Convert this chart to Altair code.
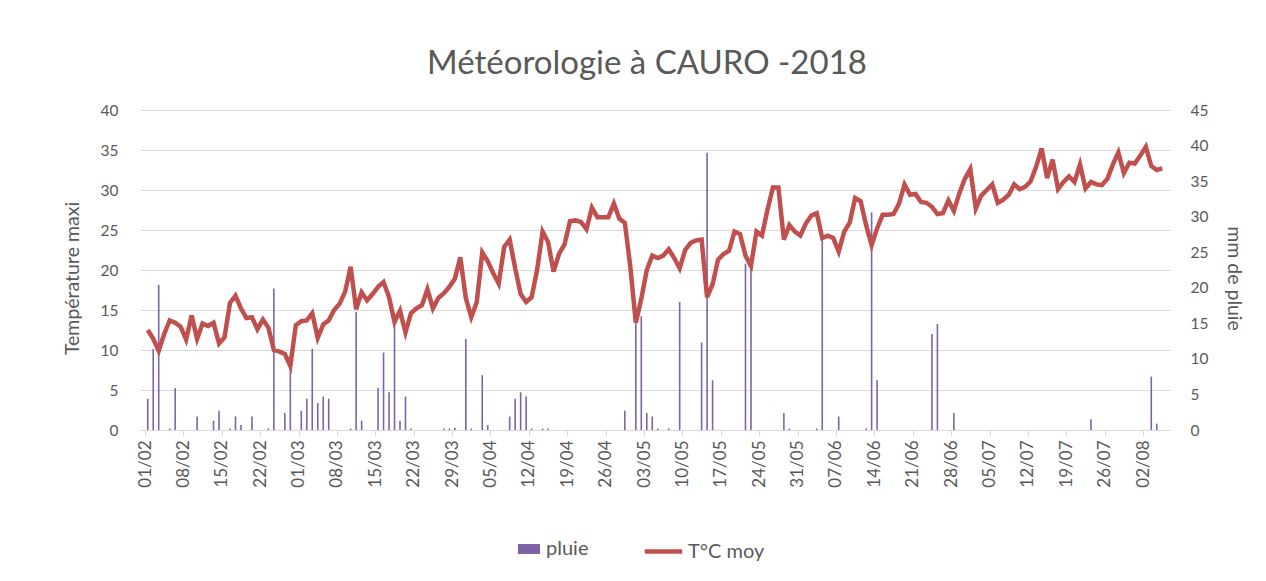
import altair as alt
import pandas as pd

# ---------------- data ----------------
chart_title = "Météorologie à CAURO -2018"
start_date = "2018-02-01"
end_date = "2018-08-06"
serie_rain = "pluie"
serie_temp = "T°C moy"

# daily mean temperature, one value per day from 01/02
temp_moy = [
    12.5, 11.4, 9.9, 12.0, 13.7, 13.4, 12.9, 11.3, 14.3, 11.4,
    13.3, 13.0, 13.4, 10.8, 11.6, 15.9, 16.8, 15.2, 14.0, 14.1,
    12.6, 13.8, 12.8, 10.0, 9.8, 9.5, 8.0, 13.1, 13.6, 13.7,
    14.6, 11.5, 13.2, 13.7, 15.0, 15.8, 17.3, 20.4, 15.1, 17.2,
    16.2, 17.0, 17.9, 18.5, 16.6, 13.5, 14.9, 12.2, 14.6, 15.2,
    15.6, 17.6, 15.2, 16.5, 17.1, 17.9, 18.9, 21.6, 16.5, 14.1,
    16.0, 22.2, 21.1, 19.6, 18.3, 22.9, 23.8, 20.2, 17.0, 16.0,
    16.6, 20.0, 24.8, 23.5, 19.8, 22.0, 23.2, 26.1, 26.2, 26.0,
    25.1, 27.8, 26.6, 26.6, 26.6, 28.3, 26.4, 25.9, 20.4, 13.4,
    16.4, 20.0, 21.8, 21.5, 21.8, 22.6, 21.5, 20.2, 22.5, 23.4,
    23.7, 23.8, 16.6, 18.2, 21.3, 22.0, 22.4, 24.8, 24.5, 21.8,
    20.5, 24.8, 24.3, 27.5, 30.3, 30.3, 23.8, 25.6, 24.8, 24.3,
    25.8, 26.8, 27.1, 24.0, 24.3, 24.0, 22.3, 24.8, 25.9, 29.0,
    28.6, 25.6, 23.1, 25.2, 26.9, 26.9, 27.0, 28.3, 30.7, 29.4,
    29.5, 28.5, 28.4, 27.9, 27.0, 27.1, 28.7, 27.4, 29.6, 31.4,
    32.6, 27.7, 29.3, 30.0, 30.7, 28.4, 28.8, 29.4, 30.7, 30.1,
    30.4, 31.1, 32.9, 35.2, 31.5, 33.8, 30.1, 31.0, 31.7, 31.0,
    33.2, 30.2, 31.0, 30.7, 30.6, 31.4, 33.2, 34.7, 32.1, 33.4,
    33.3, 34.3, 35.4, 33.0, 32.5, 32.7,
]

# rainy days (day number counted from 01/02) and rainfall in mm
rain_day = [
    0, 1, 2, 4, 5, 9, 12, 13, 15, 16, 17, 19, 22, 23, 25, 26, 28, 29,
    30, 31, 32, 33, 37, 38, 39, 42, 43, 44, 45, 46, 47, 48, 54, 55, 56,
    58, 59, 61, 62, 66, 67, 68, 69, 70, 72, 73, 87, 89, 90, 91, 92, 93,
    95, 97, 101, 102, 103, 109, 110, 116, 117, 122, 123, 126, 131, 132,
    133, 143, 144, 147, 172, 183, 184,
]
rain_mm = [
    4.4, 11.4, 20.4, 0.2, 5.9, 1.9, 1.3, 2.7, 0.2, 1.9, 0.7, 1.9, 0.2, 19.9, 2.4, 10.5, 2.7, 4.4,
    11.4, 3.8, 4.7, 4.4, 0.2, 16.6, 1.3, 5.9, 10.9, 5.3, 14.8, 1.3, 4.7, 0.2, 0.2, 0.2, 0.3,
    12.8, 0.2, 7.7, 0.7, 1.9, 4.4, 5.3, 4.7, 0.2, 0.2, 0.2, 2.7, 15.0, 16.0, 2.4, 1.9, 0.2,
    0.2, 18.0, 12.3, 39.0, 7.0, 23.4, 23.0, 2.4, 0.2, 0.2, 26.7, 1.9, 0.2, 30.6,
    7.0, 13.5, 14.9, 2.4, 1.5, 7.5, 0.9,
]

temp_ticks = list(range(0, 45, 5))
rain_ticks = list(range(0, 50, 5))

# ---------------- tables ----------------
days = pd.date_range(start_date, periods=len(temp_moy), freq="D") + pd.Timedelta(hours=12)
df_temp = pd.DataFrame({
    "date": days.strftime("%Y-%m-%dT%H:%M:%S"),
    "val": temp_moy,
    "serie": serie_temp,
})
rain_dates = pd.Timestamp(start_date) + pd.to_timedelta(rain_day, unit="D") + pd.Timedelta(hours=12)
df_rain = pd.DataFrame({
    "date": rain_dates.strftime("%Y-%m-%dT%H:%M:%S"),
    "val": rain_mm,
    "serie": serie_rain,
})

def dt(ts):
    return alt.DateTime(year=ts.year, month=ts.month, date=ts.day)

tick_dates = [dt(t) for t in pd.date_range(start_date, end_date, freq="7D")]
x_domain = [dt(pd.Timestamp(start_date)), dt(pd.Timestamp(end_date))]

FONT = "Lato"
GREY = "#595959"
PURPLE = "#7E63A8"
RED = "#C0504D"

x_enc = alt.X(
    "date:T",
    scale=alt.Scale(domain=x_domain),
    axis=alt.Axis(
        values=tick_dates, format="%d/%m", labelAngle=270, title=None,
        grid=False, domainColor="#d9d9d9", tickColor="#d9d9d9", tickSize=6,
        labelColor=GREY, labelFont=FONT, labelFontSize=17, labelPadding=4,
    ),
)

bars = alt.Chart(df_rain).mark_bar(size=1.6).encode(
    x=x_enc,
    y=alt.Y(
        "val:Q",
        scale=alt.Scale(domain=[0, 45], nice=False),
        axis=alt.Axis(
            orient="right", title="mm de pluie", values=rain_ticks, grid=False,
            ticks=False, tickSize=0, domain=False, labelPadding=20,
            labelColor=GREY, labelFont=FONT, labelFontSize=15.5,
            titleColor=GREY, titleFont=FONT, titleFontSize=19.5,
            titleFontWeight="normal", titlePadding=16, titleY=168,
        ),
    ),
    color=alt.Color(
        "serie:N",
        scale=alt.Scale(domain=[serie_rain], range=[PURPLE]),
        legend=alt.Legend(
            title=None, orient="none", legendX=378, legendY=428,
            symbolType="M-1,-0.45H1V0.45H-1Z", symbolSize=484,
            symbolStrokeWidth=0, labelOffset=6,
            labelColor=GREY, labelFont=FONT, labelFontSize=20,
        ),
    ),
)

line = alt.Chart(df_temp).mark_line(strokeWidth=4.5).encode(
    x=x_enc,
    y=alt.Y(
        "val:Q",
        scale=alt.Scale(domain=[0, 40], nice=False),
        axis=alt.Axis(
            orient="left", title="Température maxi", values=temp_ticks, grid=True,
            gridColor="#d9d9d9", gridWidth=1, ticks=False, tickSize=0, domain=False,
            labelPadding=22, labelColor=GREY, labelFont=FONT, labelFontSize=15.5,
            titleColor=GREY, titleFont=FONT, titleFontSize=19.5,
            titleFontWeight="normal", titlePadding=18, titleY=168,
        ),
    ),
    stroke=alt.Stroke(
        "serie:N",
        scale=alt.Scale(domain=[serie_temp], range=[RED]),
        legend=alt.Legend(
            title=None, orient="none", legendX=510, legendY=428,
            symbolType="M-1.7,0H1.7", symbolSize=484, symbolStrokeWidth=4.5,
            symbolFillColor="transparent", labelOffset=11,
            labelColor=GREY, labelFont=FONT, labelFontSize=20,
        ),
    ),
)

chart = (
    alt.layer(bars, line)
    .resolve_scale(y="independent", color="independent", stroke="independent")
    .properties(
        width=1030,
        height=320,
        autosize=alt.AutoSizeParams(type="none"),
        padding={"left": 132, "top": 102, "right": 88, "bottom": 140},
        title=alt.TitleParams(
            chart_title, font=FONT, fontSize=33, fontWeight="normal",
            color=GREY, anchor="middle", offset=22, dx=-8,
        ),
        background="white",
    )
    .configure_view(stroke=None)
)

chart.save("out.html", embed_options={"renderer": "svg", "actions": False})
